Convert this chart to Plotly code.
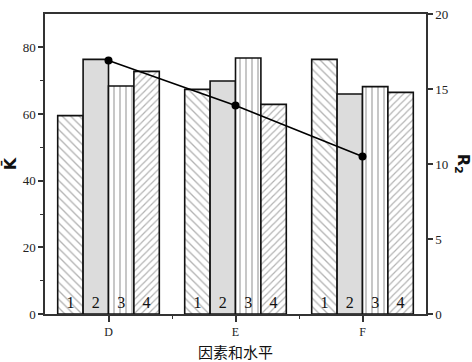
import plotly.graph_objects as go

factors = ["D", "E", "F"]
levels = ["1", "2", "3", "4"]
k_level1 = [59.5, 67.4, 76.4]
k_level2 = [76.4, 69.9, 66.0]
k_level3 = [68.4, 76.8, 68.2]
k_level4 = [72.8, 62.9, 66.5]
r2_values = [16.9, 13.9, 10.5]

xpos = list(range(len(factors)))
series = [k_level1, k_level2, k_level3, k_level4]

patterns = [
    dict(shape="\\", fgcolor="#666666", bgcolor="white", size=6, solidity=0.22),
    None,
    dict(shape="|", fgcolor="#8a8a8a", bgcolor="white", size=6, solidity=0.32),
    dict(shape="/", fgcolor="#666666", bgcolor="white", size=5, solidity=0.24),
]
colors = ["white", "#dcdcdc", "white", "white"]

fig = go.Figure()
serif = "Liberation Serif, DejaVu Serif, serif"
for i, (vals, lv) in enumerate(zip(series, levels)):
    marker = dict(color=colors[i], line=dict(color="#111111", width=1.6))
    if patterns[i] is not None:
        marker["pattern"] = patterns[i]
    fig.add_trace(go.Bar(
        x=xpos, y=vals, name=lv, marker=marker,
        text=[lv] * len(vals), textposition="inside", insidetextanchor="start",
        textangle=0, textfont=dict(family=serif, size=16, color="#111111"),
        cliponaxis=False, showlegend=False, yaxis="y",
    ))

fig.add_trace(go.Scatter(
    x=xpos, y=r2_values, yaxis="y2", mode="lines+markers",
    line=dict(color="black", width=1.6),
    marker=dict(color="black", size=8),
    showlegend=False,
))

fig.update_layout(
    width=472, height=362,
    margin=dict(l=45, r=46, t=7, b=48),
    plot_bgcolor="white", paper_bgcolor="white",
    barmode="group", bargap=0.2, bargroupgap=0,
    font=dict(family=serif, size=13, color="#222222"),
    xaxis=dict(
        range=[-0.5, 2.5], tickvals=xpos, ticktext=factors,
        ticks="outside", ticklen=6, tickwidth=1.5, tickcolor="#333",
        showline=True, linecolor="#333", linewidth=1.5, mirror=True,
        showgrid=False, zeroline=False,
        tickfont=dict(family=serif, size=12, color="#222"),
        minor=dict(tickvals=[0.5, 1.5], ticks="outside", ticklen=3, tickcolor="#333", tickwidth=1.2),
    ),
    yaxis=dict(
        range=[0, 90], tickvals=[0, 20, 40, 60, 80],
        ticks="outside", ticklen=5, tickwidth=1.5, tickcolor="#333",
        showline=True, linecolor="#333", linewidth=1.5,
        showgrid=False, zeroline=False,
        tickfont=dict(family=serif, size=13, color="#222"),
        minor=dict(tickvals=[10, 30, 50, 70], ticks="outside", ticklen=3, tickcolor="#333", tickwidth=1.2),
        title=dict(text="<b>K̄</b>", font=dict(family="DejaVu Sans", size=16, color="#111"), standoff=4),
    ),
    yaxis2=dict(
        range=[0, 20], tickvals=[0, 5, 10, 15, 20], overlaying="y", side="right",
        ticks="outside", ticklen=5, tickwidth=1.5, tickcolor="#333",
        showline=True, linecolor="#333", linewidth=1.5,
        showgrid=False, zeroline=False,
        tickfont=dict(family=serif, size=13, color="#222"),
    ),
    annotations=[
        dict(
            text="<b>R<sub>2</sub></b>", xref="paper", yref="paper", x=1.065, y=0.5,
            showarrow=False, textangle=90, font=dict(family="DejaVu Sans", size=16, color="#111"),
            xanchor="left",
        ),
        dict(
            text="因素和水平", xref="paper", yref="paper", x=0.5, y=-0.124,
            showarrow=False, font=dict(family="Noto Sans CJK SC", size=15, color="#111"),
            xanchor="center", yanchor="middle",
        ),
    ],
)

fig.write_html(
    "out.html",
    config={"displayModeBar": False},
    post_script="document.body.style.margin='0px';document.body.style.padding='0px';",
)
